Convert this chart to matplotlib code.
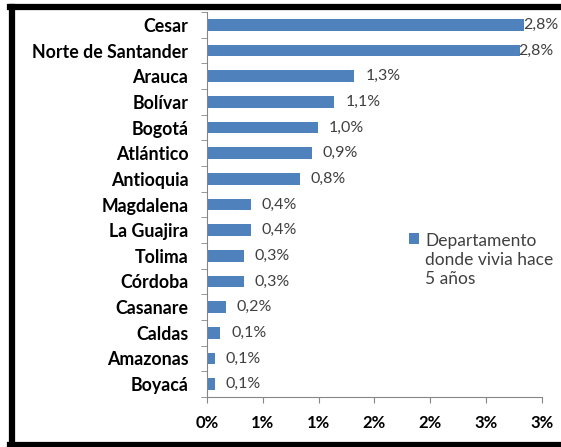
import matplotlib
matplotlib.use("Agg")
import matplotlib.pyplot as plt
from matplotlib.lines import Line2D
from matplotlib.transforms import offset_copy

plt.rcParams['font.family'] = ['Lato', 'DejaVu Sans']

departamentos = ['Cesar', 'Norte de Santander', 'Arauca', 'Bolívar', 'Bogotá',
                 'Atlántico', 'Antioquia', 'Magdalena', 'La Guajira', 'Tolima',
                 'Córdoba', 'Casanare', 'Caldas', 'Amazonas', 'Boyacá']
porcentaje = [2.84, 2.80, 1.32, 1.14, 0.99, 0.94, 0.83, 0.39, 0.39, 0.33,
              0.33, 0.17, 0.12, 0.07, 0.07]
xticks = [0, 0.5, 1.0, 1.5, 2.0, 2.5, 3.0]
xticklabels = ['0%', '1%', '1%', '2%', '2%', '3%', '3%']
serie = 'Departamento\ndonde vivia hace\n5 años'

azul = '#4F81BD'
gris = '#868686'

fig = plt.figure(figsize=(5.61, 4.47), dpi=100)
ax = fig.add_axes([0.369, 0.112, 0.597, 0.861])

n = len(departamentos)
pos = list(range(n))[::-1]
ax.barh(pos, porcentaje, height=0.45, color=azul, label=serie)

for p, v in zip(pos, porcentaje):
    # las etiquetas de las barras largas quedan pegadas al borde
    dx = -1 if v > 2.5 else 11
    tr = offset_copy(ax.transData, fig=fig, x=dx, y=0, units='dots')
    ax.text(v, p, ('%.1f' % v).replace('.', ',') + '%', transform=tr,
            ha='left', va='center', fontsize=11.5, color='#404040')

ax.set_xlim(0, 3.0)
ax.set_ylim(-0.5, n - 0.5)
ax.set_xticks(xticks)
ax.set_xticklabels(xticklabels, fontweight='bold', fontsize=12)
ax.set_yticks(pos)
ax.set_yticklabels(departamentos, fontweight='bold', fontsize=12.8)
ax.tick_params(axis='y', length=0, pad=13.5)
ax.tick_params(axis='x', length=4, color=gris, pad=9)
ax.set_yticks([i + 0.5 for i in range(-1, n)], minor=True)
ax.tick_params(axis='y', which='minor', length=4, color=gris)

for s in ['top', 'right']:
    ax.spines[s].set_visible(False)
for s in ['left', 'bottom']:
    ax.spines[s].set_color(gris)

leg = ax.legend(loc='upper left', bbox_to_anchor=(0.603, 0.425), frameon=False,
                fontsize=12.5, handlelength=0.6, handleheight=0.6,
                handletextpad=0.35, borderpad=0, borderaxespad=0,
                labelcolor='#404040')
for col in leg._legend_handle_box.get_children():
    for item in col.get_children():
        item.align = 'top'

# marco negro
fig.add_artist(Line2D([12 / 561, 12 / 561], [3 / 447, 440 / 447], color='black', lw=4.5))
fig.add_artist(Line2D([10 / 561, 1], [440 / 447, 440 / 447], color='black', lw=4.5))
fig.add_artist(Line2D([10 / 561, 1], [2 / 447, 2 / 447], color='black', lw=4.5))

fig.savefig('out.png', dpi=100)
